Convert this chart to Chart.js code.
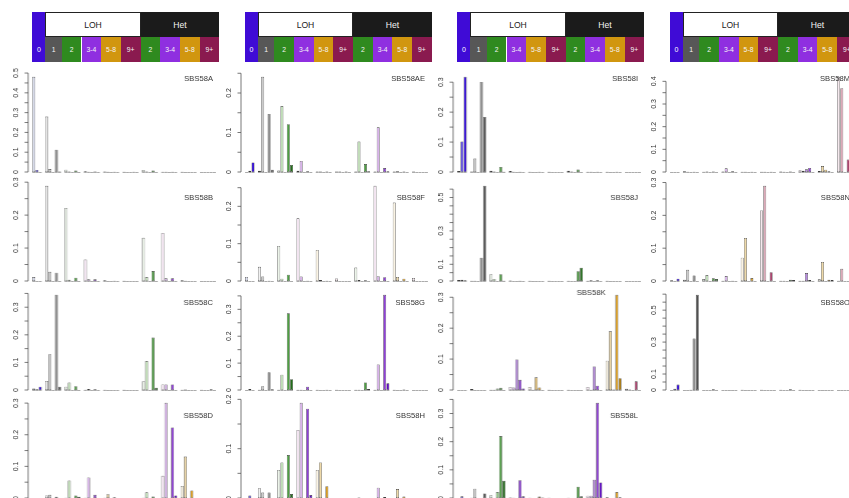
<!DOCTYPE html>
<html><head><meta charset="utf-8">
<script src="https://cdn.jsdelivr.net/npm/chart.js@4/dist/chart.umd.min.js"></script>
<style>
html,body{margin:0;padding:0;background:#fff;}
body{width:849px;height:498px;overflow:hidden;position:relative;font-family:"Liberation Sans",Arial,sans-serif;}
canvas{position:absolute;}
.hb{position:absolute;box-sizing:border-box;display:flex;align-items:center;justify-content:center;color:#fff;white-space:nowrap;}
</style></head><body>
<script>
// ---------- categories ----------
const CN_CLASSES = ['0','1','2','3-4','5-8','9+','2','3-4','5-8','9+'];
const CLASS_GROUP = ['', 'LOH','LOH','LOH','LOH','LOH','Het','Het','Het','Het'];
const SIZE_BINS_HD = ['0-100kb','100kb-1Mb','>1Mb'];
const SIZE_BINS = ['0-100kb','100kb-1Mb','1Mb-10Mb','10Mb-40Mb','>40Mb'];
const PANEL_NAMES = ['SBS58A','SBS58B','SBS58C','SBS58D','SBS58AE','SBS58F','SBS58G','SBS58H','SBS58I','SBS58J','SBS58K','SBS58L','SBS58M','SBS58N','SBS58O'];

// ---------- series values (48 channels: 0 | LOH 1,2,3-4,5-8,9+ | Het 2,3-4,5-8,9+) ----------
const SBS58A  = [0.481,0.01,0, 0.28,0.015,0,0.112,0.002, 0.012,0.002,0,0.008,0, 0.004,0.001,0,0.002,0, 0.002,0.001,0,0.001,0, 0.001,0,0,0.001,0, 0.01,0.003,0,0.008,0, 0.001,0.001,0,0.001,0, 0.001,0,0,0,0, 0,0,0,0,0];
const SBS58B  = [0.012,0,0, 0.289,0.028,0,0.025,0, 0.222,0.004,0,0.01,0, 0.065,0.005,0,0.005,0, 0.002,0,0,0.001,0, 0.001,0,0,0,0, 0.131,0.012,0,0.03,0, 0.146,0.008,0,0.008,0, 0.002,0.001,0,0,0, 0,0,0,0,0];
const SBS58C  = [0.005,0.003,0.012, 0.033,0.13,0,0.345,0.012, 0.012,0.027,0,0.014,0, 0.001,0.004,0,0.003,0, 0.001,0,0,0,0, 0.001,0,0,0,0, 0.032,0.105,0,0.19,0.008, 0.02,0.02,0,0.02,0, 0.001,0.002,0,0,0, 0.001,0,0,0.003,0];
const SBS58D  = [0,0,0, 0.008,0.01,0,0.004,0, 0.001,0.055,0,0.008,0.004, 0.001,0.065,0,0.01,0, 0.001,0.012,0,0.002,0, 0,0,0,0,0, 0.001,0.018,0,0.005,0, 0.07,0.301,0,0.223,0.008, 0.038,0.131,0,0.024,0, 0,0,0,0,0];
const SBS58AE = [0,0.003,0.024, 0.003,0.241,0,0.147,0.006, 0.004,0.167,0,0.121,0.018, 0.003,0.028,0,0.002,0, 0.001,0.001,0,0.001,0, 0.001,0.001,0,0.001,0, 0.001,0.077,0,0.02,0.002, 0.001,0.113,0,0.01,0.002, 0.001,0.002,0,0.001,0, 0.001,0,0,0,0];
const SBS58F  = [0.011,0,0, 0.038,0.012,0,0.001,0, 0.094,0.006,0,0.017,0, 0.168,0.012,0,0.001,0, 0.083,0.003,0,0.001,0, 0.007,0,0,0,0, 0.036,0.003,0,0.002,0, 0.255,0.013,0,0.01,0, 0.21,0.011,0,0.006,0, 0.008,0,0,0,0];
const SBS58G  = [0,0.004,0, 0.001,0.014,0,0.066,0.003, 0.001,0.057,0,0.285,0.04, 0.001,0.001,0,0.012,0, 0.001,0,0,0.001,0, 0.001,0,0,0,0, 0.001,0.001,0,0.028,0.004, 0.001,0.095,0,0.354,0.025, 0.001,0,0,0.002,0, 0,0,0,0,0];
const SBS58H  = [0,0.005,0, 0.02,0.011,0,0.011,0, 0.057,0.072,0,0.087,0.008, 0.138,0.193,0,0.181,0.006, 0.057,0.072,0,0.024,0, 0,0,0,0,0, 0,0.001,0,0,0, 0,0.021,0,0.002,0, 0,0.018,0,0.003,0, 0,0,0,0,0];
const SBS58I  = [0.003,0.102,0.318, 0.002,0.045,0,0.301,0.184, 0.004,0.002,0,0.017,0.001, 0.003,0.001,0,0.001,0, 0.001,0,0,0.001,0, 0.001,0,0,0,0, 0.004,0.002,0,0.008,0, 0.001,0.001,0,0.001,0, 0.001,0,0,0.001,0, 0,0,0,0,0];
const SBS58J  = [0.006,0.007,0.005, 0.001,0.001,0,0.139,0.57, 0.041,0.012,0,0.041,0.001, 0.003,0,0,0.001,0, 0.001,0,0,0,0, 0.001,0,0,0,0, 0.001,0,0,0.059,0.08, 0.001,0.004,0,0.004,0, 0.001,0,0,0,0, 0,0,0,0,0];
const SBS58K  = [0,0,0, 0.003,0,0,0,0, 0.001,0.001,0.005,0.007,0, 0.01,0.008,0.099,0.033,0.005, 0.01,0.001,0.041,0.008,0, 0.001,0,0,0,0, 0.001,0,0,0,0, 0.01,0.001,0.076,0.014,0, 0.095,0.19,0.002,0.308,0.038, 0.004,0.002,0,0.028,0];
const SBS58L  = [0,0.006,0, 0.001,0.033,0,0,0.016, 0.01,0,0.021,0.22,0.061, 0.002,0.001,0,0.063,0.006, 0.001,0,0,0.005,0.002, 0.001,0,0,0,0, 0.001,0,0,0.04,0.006, 0.008,0.008,0.065,0.338,0.055, 0.003,0,0,0.021,0.003, 0,0,0,0,0];
const SBS58M  = [0,0,0, 0.003,0.001,0,0.001,0, 0.001,0.002,0,0.002,0, 0.002,0.016,0,0.003,0, 0.001,0.001,0,0.001,0, 0.001,0.001,0,0.001,0, 0.002,0.001,0,0.002,0, 0.008,0.005,0.012,0.018,0, 0.004,0.026,0.01,0.003,0, 0.42,0.37,0,0.055,0];
const SBS58N  = [0.002,0,0.007, 0.004,0.034,0,0.017,0, 0.006,0.018,0,0.008,0.006, 0.001,0.015,0,0.001,0, 0.071,0.131,0,0.009,0, 0.215,0.29,0,0.027,0, 0.001,0.001,0,0.004,0.003, 0.001,0.001,0.024,0.003,0, 0.005,0.058,0,0.004,0.003, 0.001,0.037,0,0,0];
const SBS58O  = [0,0.008,0.034, 0,0,0.002,0.322,0.596, 0,0,0,0.004,0, 0,0,0,0,0, 0.002,0,0,0,0, 0.001,0,0,0,0, 0.001,0,0,0.004,0, 0.001,0,0,0,0, 0,0,0,0,0, 0,0,0,0,0];
const SERIES = [SBS58A,SBS58B,SBS58C,SBS58D,SBS58AE,SBS58F,SBS58G,SBS58H,SBS58I,SBS58J,SBS58K,SBS58L,SBS58M,SBS58N,SBS58O];

// ---------- styles ----------
const HEADER_COLORS = ['#3f0bd6','#575757','#2f8a1f','#8f2fe0','#d1960f','#8a1a4f','#2f8a1f','#8f2fe0','#d1960f','#8a1a4f'];
const PAL_HD = ['#dfe3f4','#5a48e2','#2c06cf'];
const PAL_GRAY = ['#f1f1f1','#cbcbcb','#ababab','#8b8b8b','#505050'];
const PAL_GREEN = ['#ecf4e9','#bddbb4','#8fc584','#4f9f43','#236f19'];
const PAL_PURPLE = ['#f3e4f1','#d8b3ea','#b88be0','#8f3fd8','#5f0fbe'];
const PAL_GOLD = ['#faf3e3','#eed9a8','#e2bf75','#d49a26','#a67508'];
const PAL_MAROON = ['#f6e9ee','#dca9b8','#c98098','#a8466e','#7f1d4c'];
const CLASS_PAL = [PAL_HD,PAL_GRAY,PAL_GREEN,PAL_PURPLE,PAL_GOLD,PAL_MAROON,PAL_GREEN,PAL_PURPLE,PAL_GOLD,PAL_MAROON];

// layout
const COL_X = [32.3, 244.8, 457.3, 669.8];
const ROW_BASE = [171.5, 281, 390, 497.5];
const ROW_TITLE_Y = [78, 197.5, 303, 415.5];
const HEAD_W = 187;
const PLOT_W = 183.5, PLOT_H = 99;
const PAD_L = 32, PAD_R = 10, PAD_T = 20, PAD_B = 6;

// slot structure: bars of each class followed by a gap slot
const CLASS_N = CN_CLASSES.map((c,i)=> i===0 ? SIZE_BINS_HD.length : SIZE_BINS.length);
const SLOT_CLASS = [], SLOT_SIZE = [];
CLASS_N.forEach((n,c)=>{
  for(let s=0;s<n;s++){SLOT_CLASS.push(c);SLOT_SIZE.push(s);}
  if(c<CLASS_N.length-1){SLOT_CLASS.push(-1);SLOT_SIZE.push(-1);}
});
const NSLOT = SLOT_CLASS.length;
const SLOT_W = PLOT_W/NSLOT;
const HSLOT_W = HEAD_W/NSLOT;
const BAR_PCT = 0.93;
const SLOT_LABELS = SLOT_CLASS.map((c,i)=> c<0 ? '' : (CLASS_GROUP[c]+' '+CN_CLASSES[c]+' '+(c===0?SIZE_BINS_HD:SIZE_BINS)[SLOT_SIZE[i]]));
const SLOT_COLORS = SLOT_CLASS.map((c,i)=> c<0 ? 'rgba(0,0,0,0)' : CLASS_PAL[c][SLOT_SIZE[i]]);

function toSlots(vals){ let k=0; return SLOT_CLASS.map(c=> c<0 ? null : vals[k++]); }

// ---------- header legends ----------
function addBox(x,y,w,h,bg,txt,color,size,border){
  const d=document.createElement('div'); d.className='hb';
  d.style.left=x+'px'; d.style.top=y+'px'; d.style.width=w+'px'; d.style.height=h+'px';
  d.style.background=bg; d.style.color=color; d.style.fontSize=size+'px';
  if(border) d.style.border=border;
  d.textContent=txt; document.body.appendChild(d); return d;
}
function header(x0){
  const y0=12, hTop=25, hBot=25;
  const spans=[[0,4],[4,5]]; for(let c=2;c<10;c++) spans.push([9+6*(c-2),6]);
  spans.forEach(([s,n],c)=>{
    const x=x0+s*HSLOT_W, w=n*HSLOT_W;
    if(c===0){ const d=addBox(x,y0,w,hTop+hBot,HEADER_COLORS[0],'','#fff',7);
      const t=document.createElement('div'); t.textContent=CN_CLASSES[0];
      t.style.cssText='position:absolute;left:0;right:0;top:'+hTop+'px;height:'+hBot+'px;display:flex;align-items:center;justify-content:center;font-size:7px;color:#fff;';
      d.appendChild(t);}
    else addBox(x,y0+hTop,w,hBot,HEADER_COLORS[c],CN_CLASSES[c],'#f4f4f4',6.8);
  });
  const lohX=x0+4*HSLOT_W;
  const hetStart=x0+(9+6*4)*HSLOT_W;
  addBox(lohX,y0,hetStart-lohX,hTop,'#fff','LOH','#222',8.6,'1px solid #222');
  addBox(hetStart,y0,x0+HEAD_W-hetStart,hTop,'#1b1b1b','Het','#f4f4f4',8.6);
}
COL_X.forEach(x=>header(x));

// ---------- R-like axis plugin ----------
const rAxis = {
  id:'rAxis',
  afterDraw(chart){
    const o = chart.options.plugins.rAxis;
    const {ctx, chartArea:a, scales:{x,y}} = chart;
    ctx.save();
    ctx.strokeStyle='#ababab'; ctx.lineWidth=1;
    const y0=Math.round(y.getPixelForValue(0))+0.5;
    const bw=SLOT_W*BAR_PCT;
    SLOT_CLASS.forEach((c,i)=>{ if(c<0) return; const px=x.getPixelForValue(i);
      ctx.beginPath(); ctx.moveTo(px-bw/2,y0); ctx.lineTo(px+bw/2,y0); ctx.stroke(); });
    const ax = a.left-4;
    const n = Math.floor(o.ymax/0.05+1e-6);
    const yTop = y.getPixelForValue(n*0.05);
    ctx.strokeStyle='#555'; ctx.lineWidth=0.8;
    ctx.beginPath(); ctx.moveTo(ax, y.getPixelForValue(0)); ctx.lineTo(ax, yTop); ctx.stroke();
    for(let k=0;k<=n;k++){ const py=y.getPixelForValue(k*0.05);
      ctx.beginPath(); ctx.moveTo(ax-3.5,py); ctx.lineTo(ax,py); ctx.stroke(); }
    ctx.fillStyle='#333'; ctx.font='7px "Liberation Sans", Arial, sans-serif';
    ctx.textAlign='center'; ctx.textBaseline='middle';
    let last=null;
    for(let k=0;k*0.1<=n*0.05+1e-6;k++){
      const txt = k===0 ? '0' : (k*0.1).toFixed(1);
      const py=y.getPixelForValue(k*0.1); const w=ctx.measureText(txt).width;
      if(last && (last.py-py) < (last.w+w)/2+7) continue;
      ctx.save(); ctx.translate(ax-12,py); ctx.rotate(-Math.PI/2); ctx.fillText(txt,0,0); ctx.restore();
      last={py,w};
    }
    ctx.font='7.6px "Liberation Sans", Arial, sans-serif'; ctx.fillStyle='#333';
    ctx.textAlign='right'; ctx.textBaseline='middle';
    ctx.fillText(o.title, o.tx, o.ty);
    ctx.restore();
  }
};

// ---------- panels ----------
PANEL_NAMES.forEach((name,i)=>{
  const col=Math.floor(i/4), row=i%4;
  const vals=SERIES[i];
  const ymax=Math.max(...vals)*1.04;
  const cv=document.createElement('canvas');
  const W=PAD_L+PLOT_W+PAD_R, H=PAD_T+PLOT_H+PAD_B;
  const left=COL_X[col]-PAD_L, top=ROW_BASE[row]-PLOT_H-PAD_T;
  cv.width=W; cv.height=H; cv.style.left=left+'px'; cv.style.top=top+'px';
  cv.style.width=W+'px'; cv.style.height=H+'px';
  document.body.appendChild(cv);
  let tx=COL_X[col]+180-left, ty=ROW_TITLE_Y[row]-top;
  if(name==='SBS58K'){ tx=605-left; ty=293-top; }
  new Chart(cv,{
    type:'bar',
    data:{labels:SLOT_LABELS, datasets:[{data:toSlots(vals), backgroundColor:SLOT_COLORS,
      borderColor:'rgba(40,40,40,0.9)', borderWidth:0.6, borderSkipped:false,
      barPercentage:BAR_PCT, categoryPercentage:1}]},
    options:{responsive:false, animation:false, events:[], devicePixelRatio:1,
      layout:{padding:{left:PAD_L,right:PAD_R,top:PAD_T,bottom:PAD_B}},
      scales:{x:{display:false, offset:true}, y:{display:false, min:0, max:ymax}},
      plugins:{legend:{display:false}, tooltip:{enabled:false}, title:{display:false},
        rAxis:{ymax, title:name, tx, ty}}},
    plugins:[rAxis]
  });
});
</script>
</body></html>
